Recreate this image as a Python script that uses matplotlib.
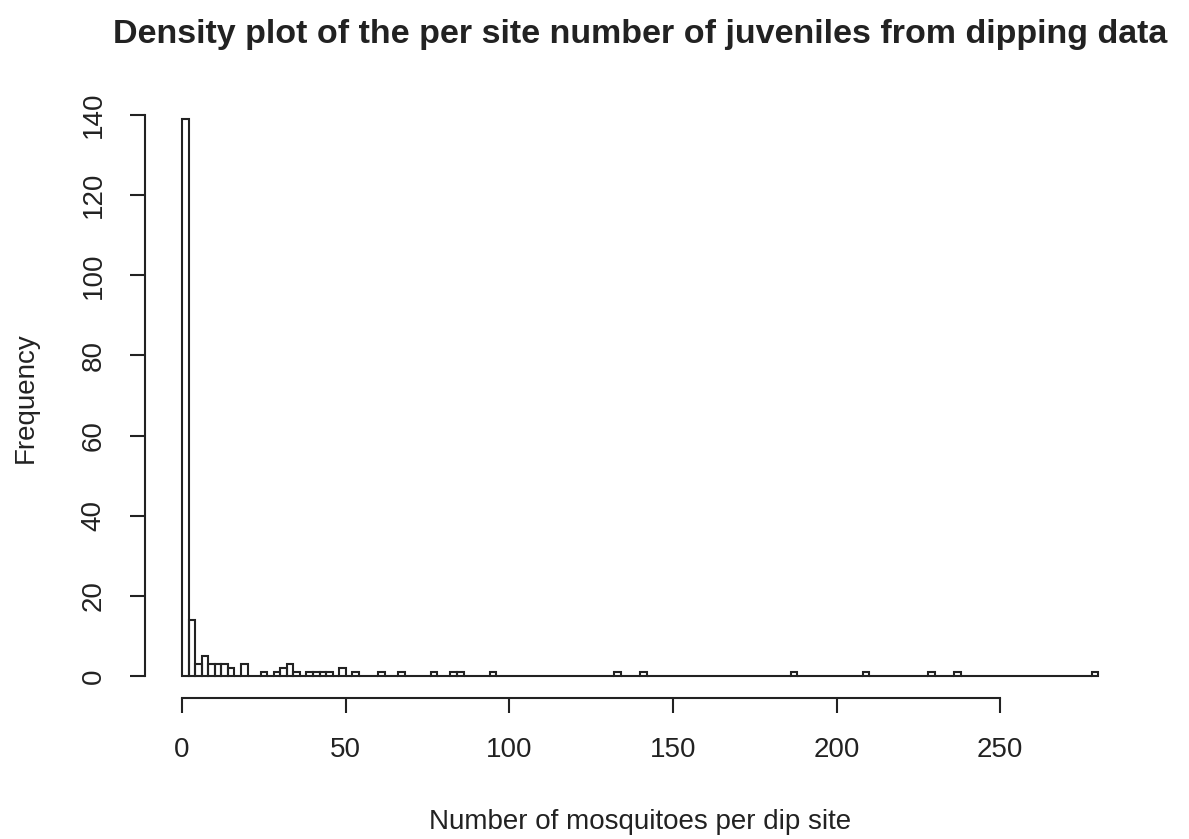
import matplotlib.pyplot as plt
import numpy as np

# Histogram of juveniles per dip site, bins of width 2 from 0 to 280
bin_width = 2
max_break = 280
filled_bins = [0, 2, 4, 6, 8, 10, 12, 14, 18, 24, 28, 30, 32, 34, 38, 40, 42,
               44, 48, 52, 60, 66, 76, 82, 84, 94, 132, 140, 186, 208, 228,
               236, 278]
bin_counts = [139, 14, 3, 5, 3, 3, 3, 2, 3, 1, 1, 2, 3, 1, 1, 1, 1,
              1, 2, 1, 1, 1, 1, 1, 1, 1, 1, 1, 1, 1, 1,
              1, 1]
x_ticks = [0, 50, 100, 150, 200, 250]
y_ticks = [0, 20, 40, 60, 80, 100, 120, 140]

breaks = np.arange(0, max_break + bin_width, bin_width)
counts = np.zeros(len(breaks) - 1)
for left, n in zip(filled_bins, bin_counts):
    counts[left // bin_width] = n

plt.rcParams["font.family"] = ["Liberation Sans", "DejaVu Sans"]
ink = "#222222"

fig = plt.figure(figsize=(11.89, 8.39), dpi=100)
ax = fig.add_axes([0.1223, 0.1677, 0.9546 - 0.1223, 0.8847 - 0.1677])

ax.bar(breaks[:-1], counts, width=bin_width, align="edge",
       facecolor="none", edgecolor=ink, linewidth=1.5)

# R-style extended limits with detached axes
xr = breaks[-1] - breaks[0]
ax.set_xlim(breaks[0] - 0.04 * xr, breaks[-1] + 0.04 * xr)
ax.set_ylim(-0.04 * counts.max(), counts.max() * 1.04)

for side in ("top", "right"):
    ax.spines[side].set_visible(False)
ax.spines["left"].set_bounds(y_ticks[0], y_ticks[-1])
ax.spines["bottom"].set_bounds(x_ticks[0], x_ticks[-1])
for side in ("left", "bottom"):
    ax.spines[side].set_color(ink)
    ax.spines[side].set_linewidth(1.5)

ax.set_xticks(x_ticks)
ax.set_yticks(y_ticks)
ax.tick_params(length=11, width=1.5, color=ink, labelcolor=ink,
               labelsize=20, pad=17)
for lbl in ax.get_yticklabels():
    lbl.set_rotation(90)
    lbl.set_va("center")

ax.set_xlabel("Number of mosquitoes per dip site", fontsize=20, color=ink,
              labelpad=33)
ax.set_ylabel("Frequency", fontsize=20, color=ink, labelpad=30)
ax.set_title("Density plot of the per site number of juveniles from dipping data",
             fontsize=24.5, fontweight="bold", color=ink, pad=39)

fig.savefig("out.png", dpi=100, facecolor="white")
